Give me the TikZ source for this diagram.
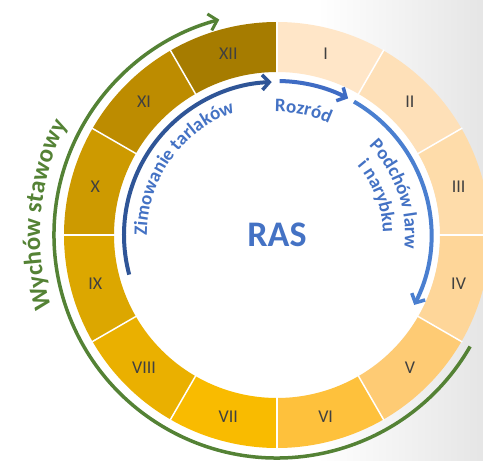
\documentclass[tikz,border=0pt]{standalone}
\usepackage{fontspec}
\setmainfont{Carlito}
\usetikzlibrary{arrows.meta,decorations.text}
\definecolor{m1}{HTML}{FFE6C8}
\definecolor{m2}{HTML}{FEE0B8}
\definecolor{m3}{HTML}{FEDCAA}
\definecolor{m4}{HTML}{FED699}
\definecolor{m5}{HTML}{FECB74}
\definecolor{m6}{HTML}{FEC13C}
\definecolor{m7}{HTML}{F9BB00}
\definecolor{m8}{HTML}{EAB000}
\definecolor{m9}{HTML}{DCA700}
\definecolor{m10}{HTML}{CD9A00}
\definecolor{m11}{HTML}{BD8C00}
\definecolor{m12}{HTML}{A67C00}
\definecolor{numgray}{HTML}{404040}
\definecolor{txtblue}{HTML}{4472C4}
\definecolor{darkblue}{HTML}{2F5597}
\definecolor{midblue}{HTML}{3F6CC4}
\definecolor{lightblue}{HTML}{4A7FD0}
\definecolor{grn}{HTML}{548235}
\tikzset{
  monthlabel/.style={text=numgray,font=\fontsize{18}{18}\selectfont,inner sep=0pt},
  separator/.style={white,line width=1.5pt},
  blueArrow/.style={line width=4pt,-{Straight Barb[length=7pt,width=15pt,line width=3.5pt]}},
  greenArrow/.style={grn,line width=3.5pt,-{Straight Barb[length=8pt,width=17pt,line width=3pt]}},
  bluetext/.style={decorate,decoration={text along path,text align=center,text color=txtblue,text={|\bfseries\fontsize{19}{21}\selectfont|#1}}},
  greentext/.style={decorate,decoration={text along path,text align=center,text color=grn,text={|\bfseries\fontsize{25}{27}\selectfont|#1}}}
}
\begin{document}
\begin{tikzpicture}[x=1pt,y=1pt]
\useasboundingbox (-277,-226) rectangle (206,235);
\shade[left color=white,right color=black!10] (40,-226) rectangle (206,235);
\fill[white] (0,0) circle[radius=163];
\foreach \i/\lab in {1/I,2/II,3/III,4/IV,5/V,6/VI,7/VII,8/VIII,9/IX,10/X,11/XI,12/XII} {
  \pgfmathsetmacro\a{90-30*(\i-1)}
  \pgfmathsetmacro\b{\a-30}
  \pgfmathsetmacro\c{\a-15}
  \fill[m\i] (\a:213) arc[start angle=\a,end angle=\b,radius=213] -- (\b:163) arc[start angle=\b,end angle=\a,radius=163] -- cycle;
  \node[monthlabel] (mo\i) at (\c:188) {\lab};
}
\foreach \k in {0,...,11} \draw[separator] (\k*30:162) -- (\k*30:214);
\node[text=txtblue,font=\bfseries\fontsize{36}{36}\selectfont,inner sep=0pt] (ras) at (0,0) {RAS};
% inner arrows
\draw[blueArrow,darkblue] (195:153) arc[start angle=195,end angle=92,radius=153];
\draw[blueArrow,midblue] (89:154) arc[start angle=89,end angle=62.5,radius=154];
\draw[blueArrow,lightblue] (60:154) arc[start angle=60,end angle=-27,radius=154];
% outer green arrow
\draw[greenArrow] (-30:223) arc[start angle=-30,end angle=-255,radius=223];
% texts along arcs
\path[bluetext={Zimowanie tarlaków}] (189.5:130) arc[start angle=189.5,end angle=99.5,radius=130];
\path[bluetext={Rozród}] (108:123) arc[start angle=108,end angle=48,radius=123];
\path[bluetext={Podchów larw}] (59:128) arc[start angle=59,end angle=-21,radius=128];
\path[bluetext={i narybku}] (61:106) arc[start angle=61,end angle=-19,radius=106];
\path[greentext={Wychów stawowy}] (220:237) arc[start angle=220,end angle=130,radius=237];
\end{tikzpicture}
\end{document}
